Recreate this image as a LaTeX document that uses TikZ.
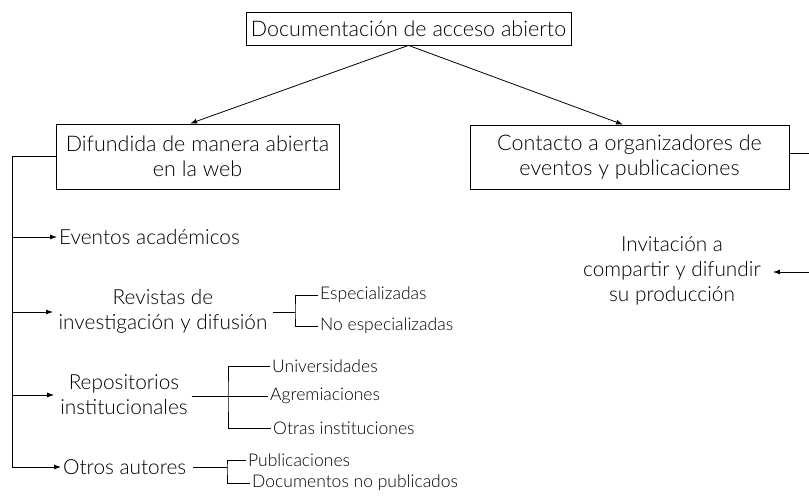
\documentclass[tikz,border=0pt]{standalone}
\usepackage{fontspec}
\setmainfont{Lato Light}
\usetikzlibrary{arrows.meta}
\tikzset{
  box/.style={draw, line width=0.8pt, inner sep=0pt, align=center, font=\fontsize{21.5}{25}\selectfont},
  big/.style={inner sep=2pt, align=center, font=\fontsize{20.8}{25}\selectfont},
  small/.style={inner sep=2pt, anchor=west, font=\fontsize{17.5}{20}\selectfont},
  ln/.style={line width=0.8pt},
  arr/.style={line width=0.8pt, -{Latex[length=7pt,width=5pt]}},
}
\begin{document}
\begin{tikzpicture}[x=1pt,y=-1pt]
\useasboundingbox (0,0) rectangle (809,497);
% boxes
\node[box, minimum width=325, minimum height=33] (top) at (408.5,28.5) {Documentación de acceso abierto};
\node[box, minimum width=283, minimum height=65] (dif) at (197.5,156.5) {Difundida de manera abierta\\en la web};
\node[box, minimum width=319, minimum height=64] (con) at (629.5,157) {Contacto a organizadores de\\eventos y publicaciones};
\draw[arr] (top.south) -- ([xshift=-7.5]dif.north);
\draw[arr] (top.south) -- ([xshift=-6.5]con.north);
% right side
\coordinate (rt) at (809,153);
\coordinate (rb) at (809,272);
\draw[ln] (con.east |- rt) -- (rt);
\node[big] (inv) at (672,271) {Invitación a\\compartir y difundir\\su producción};
\draw[arr] (rb) -- ([xshift=10]inv.east |- rb);
% left trunk
\coordinate (tb) at (12,467);
\draw[ln] (dif.west) -| (tb);
\node[big, anchor=west] (eve) at (57,237) {Eventos académicos};
\node[big] (rev) at (163,311) {Revistas de\\investigación y difusión};
\node[big] (rep) at (124,395) {Repositorios\\institucionales};
\node[big, anchor=west] (otr) at (61,467) {Otros autores};
\coordinate (r1) at (53,312);
\draw[arr] (eve.west -| tb) -- (eve.west);
\draw[arr] (tb |- r1) -- (r1);
\draw[arr] (tb |- rep.west) -- ([xshift=-4]rep.west);
\draw[arr] (tb |- otr.west) -- (otr.west);
% revistas bracket
\coordinate (rvb) at (295,312);
\node[small] (esp) at (318,295) {Especializadas};
\node[small] (noe) at (318,326) {No especializadas};
\draw[ln] ([xshift=3]rev.east |- rvb) -- (rvb);
\draw[ln] (esp.west) -| (rvb) |- (noe.west);
% repositorios bracket
\coordinate (rpb) at (228,396);
\node[small] (uni) at (270,366) {Universidades};
\node[small] (agr) at (268,396) {Agremiaciones};
\node[small] (oin) at (271,428) {Otras instituciones};
\draw[ln] ([xshift=2]rep.east |- rpb) -- (rpb);
\draw[ln] (uni.west) -| (rpb) |- (oin.west);
\draw[ln] (agr.west) -- (rpb);
% otros bracket
\coordinate (otb) at (227,467);
\node[small] (pub) at (246,460) {Publicaciones};
\node[small] (dnp) at (250,483) {Documentos no publicados};
\draw[ln] ([xshift=5]otr.east) -- (otb);
\draw[ln] (pub.west) -| (otb) |- (dnp.west);
\end{tikzpicture}
\end{document}
